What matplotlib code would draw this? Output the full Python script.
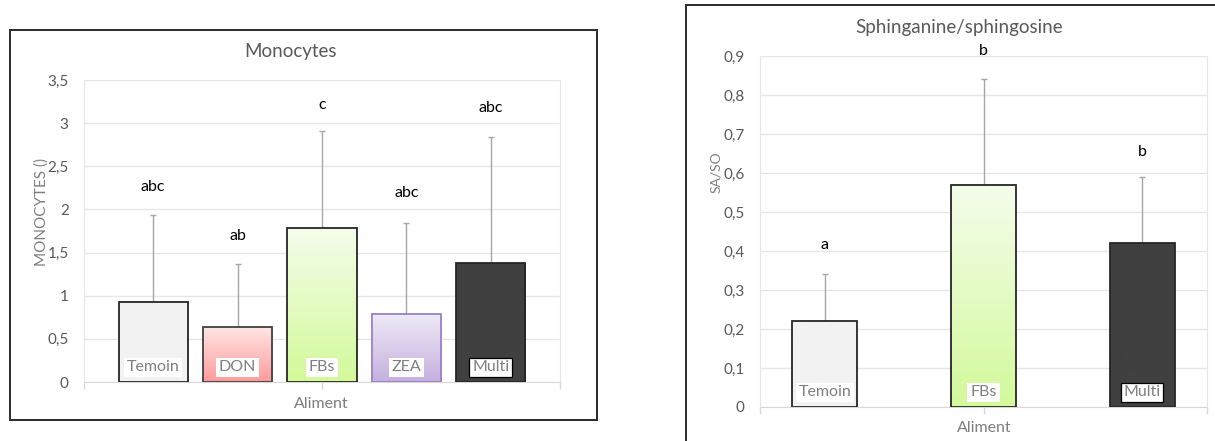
import numpy as np
import matplotlib
matplotlib.use('Agg')
import matplotlib.pyplot as plt
from matplotlib.patches import Rectangle
from matplotlib.colors import to_rgb

plt.rcParams['font.family'] = ['Lato', 'DejaVu Sans']

# Monocytes panel
mono_names = ['Temoin', 'DON', 'FBs', 'ZEA', 'Multi']
mono_means = [0.93, 0.64, 1.79, 0.79, 1.38]
mono_err = [1.00, 0.73, 1.12, 1.05, 1.46]
mono_letters = ['abc', 'ab', 'c', 'abc', 'abc']
mono_letter_y = [2.26, 1.69, 3.21, 2.19, 3.17]
mono_ticks = [0, 0.5, 1, 1.5, 2, 2.5, 3, 3.5]
mono_ticklabels = ['0', '0,5', '1', '1,5', '2', '2,5', '3', '3,5']

# Sphinganine/sphingosine panel
sa_names = ['Temoin', 'FBs', 'Multi']
sa_means = [0.22, 0.57, 0.42]
sa_err = [0.12, 0.27, 0.17]
sa_letters = ['a', 'b', 'b']
sa_letter_y = [0.415, 0.912, 0.655]
sa_ticks = [0, 0.1, 0.2, 0.3, 0.4, 0.5, 0.6, 0.7, 0.8, 0.9]
sa_ticklabels = ['0', '0,1', '0,2', '0,3', '0,4', '0,5', '0,6', '0,7', '0,8', '0,9']

# fill: (top colour, bottom colour), edge colour
styles = {
    'Temoin': (('#f2f2f2', '#f2f2f2'), '#262626'),
    'DON': (('#ffe6e6', '#ff9b9b'), '#404040'),
    'FBs': (('#f4fdeb', '#d3f99a'), '#262626'),
    'ZEA': (('#eeeaf7', '#c6b0df'), '#9c80c6'),
    'Multi': (('#404040', '#404040'), '#262626'),
}

W, H = 1215, 441
fig = plt.figure(figsize=(W / 100, H / 100), dpi=100)

GRAY = '#595959'
LIGHT = '#7f7f7f'


def panel(rect, names, means, err, letters, letter_y, ticks, ticklabels, width, xlim, ylim):
    l, t, r, b = rect
    ax = fig.add_axes([l / W, 1 - b / H, (r - l) / W, (b - t) / H])
    x = np.arange(len(names))
    bars = ax.bar(x, means, width=width, facecolor='none', linewidth=1.3, zorder=3)
    for bar, n in zip(bars, names):
        (top, bot), edge = styles[n]
        bar.set_edgecolor(edge)
        c0, c1 = np.array(to_rgb(bot)), np.array(to_rgb(top))
        f = np.linspace(0, 1, 64)[:, None, None]
        grad = c0 + (c1 - c0) * f
        im = ax.imshow(grad, extent=[bar.get_x(), bar.get_x() + bar.get_width(), 0, bar.get_height()],
                       origin='lower', aspect='auto', zorder=2.5, interpolation='bilinear')
        im.set_clip_path(bar)
    ax.errorbar(x, means, yerr=[np.zeros(len(means)), err], fmt='none', ecolor='#a6a6a6',
                elinewidth=1, capsize=2.5, capthick=1, zorder=2)
    for i, n in enumerate(names):
        ec = 'black' if n == 'Multi' else 'none'
        ax.annotate(n, (i, 0), xytext=(0, 10.5), textcoords='offset points', ha='center', va='center',
                    fontsize=11.5, color=LIGHT, zorder=5,
                    bbox=dict(boxstyle='square,pad=0.18', fc='white', ec=ec, lw=0.9))
    for i, (s, y) in enumerate(zip(letters, letter_y)):
        ax.text(i, y, s, ha='center', va='center', fontsize=11.5, color='black')
    ax.set_xlim(*xlim)
    ax.set_ylim(*ylim)
    ax.set_yticks(ticks)
    ax.set_yticklabels(ticklabels, fontsize=11, color=GRAY)
    ax.tick_params(axis='y', length=0, pad=11)
    ax.set_xticks([xlim[0], (xlim[0] + xlim[1]) / 2, xlim[1]])
    ax.set_xticklabels([])
    ax.tick_params(axis='x', length=5, color='#d9d9d9', width=1)
    ax.yaxis.grid(True, color='#e6e6e6', linewidth=1)
    ax.set_axisbelow(True)
    ax.spines['top'].set_visible(False)
    for s in ['left', 'right']:
        ax.spines[s].set_color('#e6e6e6')
    ax.spines['bottom'].set_color('#d9d9d9')
    return ax


ax1 = panel((84, 80, 560, 382), mono_names, mono_means, mono_err, mono_letters, mono_letter_y,
            mono_ticks, mono_ticklabels, 0.82, (-0.82, 4.82), (0, 3.5))
ax2 = panel((760, 56, 1207, 407), sa_names, sa_means, sa_err, sa_letters, sa_letter_y,
            sa_ticks, sa_ticklabels, 0.41, (-0.41, 2.41), (0, 0.9))

# frames
fig.patches.append(Rectangle((10 / W, 1 - 420 / H), 587 / W, 390 / H, transform=fig.transFigure,
                             fill=False, edgecolor='#2a2a2a', linewidth=1.4))
fig.patches.append(Rectangle((686 / W, -0.1), 0.5, 1 - 5 / H + 0.1, transform=fig.transFigure,
                             fill=False, edgecolor='#2a2a2a', linewidth=1.4))

# titles and axis labels
fig.text(290 / W, 1 - 51 / H, 'Monocytes', ha='center', va='center', fontsize=13.5, color=GRAY)
fig.text(959 / W, 1 - 28 / H, 'Sphinganine/sphingosine', ha='center', va='center', fontsize=13.5, color=GRAY)
fig.text(321 / W, 1 - 404 / H, 'Aliment', ha='center', va='center', fontsize=11.5, color=LIGHT)
fig.text(984 / W, 1 - 428 / H, 'Aliment', ha='center', va='center', fontsize=11.5, color=LIGHT)
fig.text(42 / W, 1 - 212 / H, 'MONOCYTES ()', ha='center', va='center', rotation=90, fontsize=11, color=LIGHT)
fig.text(716 / W, 1 - 172 / H, 'SA/SO', ha='center', va='center', rotation=90, fontsize=10, color=LIGHT)

fig.savefig('out.png', dpi=100)
